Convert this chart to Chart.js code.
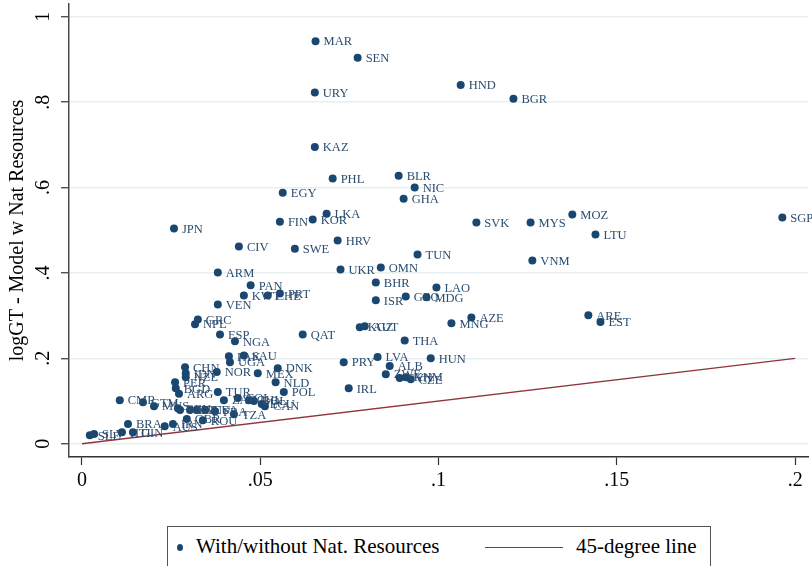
<!DOCTYPE html>
<html>
<head>
<meta charset="utf-8">
<script src="https://cdn.jsdelivr.net/npm/chart.js@4.4.1/dist/chart.umd.min.js"></script>
<style>
  html, body { margin: 0; padding: 0; background: #fff; }
  #wrap { position: relative; width: 812px; height: 566px; overflow: hidden; }
  #chart { position: absolute; left: 0; top: 0; }
  #legend {
    position: absolute; left: 167px; top: 526px; width: 544px; height: 60px;
    border: 1px solid #555; background: #fff; box-sizing: border-box;
    font-family: "Liberation Serif", "Times New Roman", serif; font-size: 21px; color: #000;
  }
  #legend .dot { position: absolute; left: 9px; top: 17px; width: 6px; height: 7px; border-radius: 50%; background: #1a476f; }
  #legend .t1 { position: absolute; left: 28px; top: 7px; }
  #legend .ln { position: absolute; left: 317px; top: 20px; width: 78px; height: 0; border-top: 1.3px solid #90353b; }
  #legend .t2 { position: absolute; left: 408px; top: 7px; }
</style>
</head>
<body>
<div id="wrap">
  <canvas id="chart" width="812" height="566"></canvas>
  <div id="legend">
    <div class="dot"></div><div class="t1">With/without Nat. Resources</div>
    <div class="ln"></div><div class="t2">45-degree line</div>
  </div>
</div>
<script>
// country codes and values
const codes = ["MAR","SEN","HND","BGR","URY","KAZ","PHL","BLR","NIC","GHA",
  "EGY","LKA","FIN","KOR","JPN","SVK","MYS","MOZ","SGP","LTU",
  "CIV","SWE","HRV","TUN","VNM","UKR","OMN","ARM","PAN","KWT",
  "CHE","PRT","VEN","BHR","ISR","GEO","MDG","LAO","AZE","MNG",
  "ARE","EST","GRC","NPL","ESP","NGA","QAT","KGZ","AUT","THA",
  "PRY","LVA","HUN","ALB","ZWE","SVN","KHM","CZE","IRL","CHN",
  "IDN","NZL","NOR","PAK","UGA","SAU","MEX","DNK","NLD","POL",
  "PER","BGD","ARG","TUR","ZAF","COL","CHL","BOL","ECU","CAN",
  "FRA","TZA","CMR","GTM","MUS","BEN","KEN","ITA","DEU","USA",
  "BRA","SLE","SLV","HTI","GIN","AUS","IRN","GBR","ROU"];
const laborOnly = [0.0655,0.0773,0.1062,0.1210,0.0653,0.0653,0.0703,0.0888,0.0933,0.0902,
  0.0563,0.0686,0.0555,0.0647,0.0258,0.1106,0.1258,0.1375,0.1964,0.1440,
  0.0440,0.0597,0.0717,0.0941,0.1263,0.0725,0.0838,0.0381,0.0473,0.0454,
  0.0521,0.0555,0.0381,0.0824,0.0824,0.0908,0.0966,0.0994,0.1092,0.1036,
  0.1420,0.1454,0.0325,0.0317,0.0387,0.0429,0.0619,0.0779,0.0793,0.0905,
  0.0734,0.0829,0.0978,0.0863,0.0852,0.0891,0.0908,0.0922,0.0748,0.0289,
  0.0291,0.0291,0.0378,0.0412,0.0415,0.0454,0.0493,0.0549,0.0543,0.0566,
  0.0261,0.0263,0.0272,0.0381,0.0398,0.0437,0.0468,0.0482,0.0504,0.0513,
  0.0373,0.0426,0.0106,0.0171,0.0202,0.0269,0.0275,0.0303,0.0322,0.0345,
  0.0129,0.0022,0.0034,0.0112,0.0143,0.0232,0.0255,0.0294,0.0339];
const withNatRes = [0.943,0.904,0.840,0.808,0.823,0.695,0.621,0.628,0.600,0.574,
  0.588,0.539,0.520,0.525,0.504,0.518,0.518,0.537,0.530,0.490,
  0.462,0.457,0.476,0.443,0.429,0.408,0.413,0.401,0.371,0.347,
  0.347,0.352,0.326,0.378,0.336,0.345,0.343,0.366,0.296,0.282,
  0.301,0.285,0.291,0.280,0.256,0.240,0.256,0.273,0.275,0.242,
  0.191,0.203,0.200,0.182,0.163,0.154,0.156,0.151,0.130,0.179,
  0.165,0.156,0.168,0.205,0.191,0.207,0.165,0.177,0.144,0.121,
  0.144,0.130,0.117,0.121,0.102,0.107,0.102,0.100,0.093,0.088,
  0.076,0.069,0.102,0.097,0.088,0.083,0.079,0.079,0.079,0.079,
  0.046,0.020,0.023,0.027,0.027,0.041,0.046,0.058,0.055];
const lineX = [0, 0.2];
const lineY = [0, 0.2];
const xTicks = [0, 0.05, 0.1, 0.15, 0.2];
const yTicks = [0, 0.2, 0.4, 0.6, 0.8, 1];

const serif = '"Liberation Serif", "Times New Roman", serif';
const fmt = (v) => (v === 0 || v === 1) ? String(v) : String(+v.toFixed(2)).replace(/^0\./, ".");

const pointLabels = {
  id: "pointLabels",
  afterDatasetsDraw(chart) {
    const ctx = chart.ctx;
    const meta = chart.getDatasetMeta(0);
    ctx.save();
    ctx.font = "12.5px " + serif;
    ctx.fillStyle = "#2b4d70";
    ctx.textBaseline = "middle";
    meta.data.forEach((pt, i) => {
      ctx.fillText(codes[i], pt.x + 8, pt.y + 1);
    });
    ctx.restore();
  },
  afterDraw(chart) {
    // stata style rotated y tick labels
    const ctx = chart.ctx;
    const ys = chart.scales.y;
    ctx.save();
    ctx.font = "20px " + serif;
    ctx.fillStyle = "#000";
    ctx.textAlign = "center";
    ctx.textBaseline = "middle";
    ys.ticks.forEach((t) => {
      const py = ys.getPixelForValue(t.value);
      ctx.save();
      ctx.translate(44, py);
      ctx.rotate(-Math.PI / 2);
      ctx.fillText(fmt(t.value), 0, 0);
      ctx.restore();
    });
    ctx.restore();
  },
};

new Chart(document.getElementById("chart"), {
  type: "scatter",
  data: {
    datasets: [
      {
        label: "With/without Nat. Resources",
        data: laborOnly.map((x, i) => ({ x, y: withNatRes[i] })),
        backgroundColor: "#1a476f",
        borderColor: "#1a476f",
        pointRadius: 4,
        borderWidth: 0,
      },
      {
        type: "line",
        label: "45-degree line",
        data: lineX.map((x, i) => ({ x, y: lineY[i] })),
        borderColor: "#90353b",
        borderWidth: 1.3,
        pointRadius: 0,
        fill: false,
      },
    ],
  },
  options: {
    responsive: false,
    animation: false,
    layout: { padding: { top: 3, right: 3, left: 0, bottom: 0 } },
    plugins: { legend: { display: false }, tooltip: { enabled: false } },
    scales: {
      x: {
        type: "linear",
        min: -0.00364,
        max: 0.2036,
        afterBuildTicks: (s) => { s.ticks = xTicks.map((v) => ({ value: v })); },
        afterFit: (s) => { s.height = 109; },
        ticks: {
          callback: (v) => fmt(v),
          font: { family: serif, size: 20 },
          color: "#000",
          padding: 4,
          maxRotation: 0,
        },
        grid: { drawOnChartArea: false, tickLength: 8, tickColor: "#333", tickWidth: 1.2 },
        border: { color: "#333", width: 1.5 },
        title: {
          display: true,
          text: "logGT - Model with only labor",
          font: { family: serif, size: 20 },
          color: "#000",
          padding: { top: 0 },
        },
      },
      y: {
        type: "linear",
        min: -0.031,
        max: 1.03,
        afterBuildTicks: (s) => { s.ticks = yTicks.map((v) => ({ value: v })); },
        afterFit: (s) => { s.width = 69; },
        ticks: { display: false },
        grid: { color: "#e7eff1", lineWidth: 1.5, tickLength: 8, tickColor: "#333", tickWidth: 1.2 },
        border: { color: "#4a4a4a", width: 1.5 },
        title: {
          display: true,
          text: "logGT - Model w Nat Resources",
          font: { family: serif, size: 20 },
          color: "#000",
          padding: { top: 6, bottom: 0 },
        },
      },
    },
  },
  plugins: [pointLabels],
});
</script>
</body>
</html>
